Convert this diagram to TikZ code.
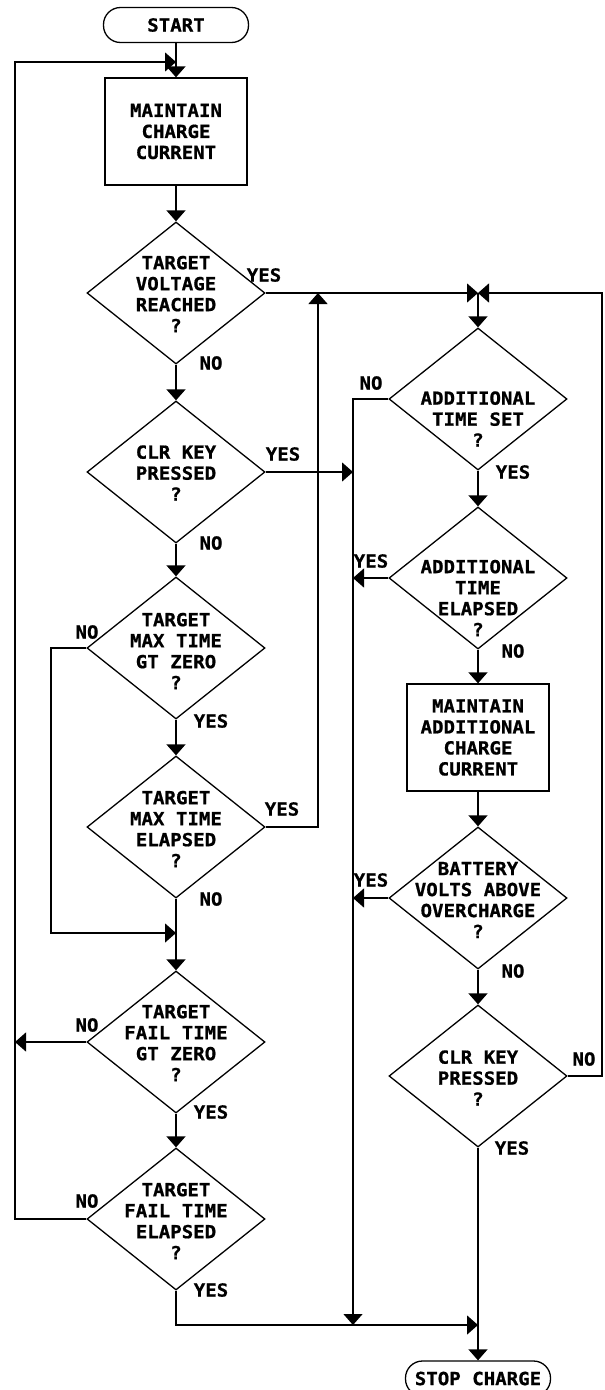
\documentclass[tikz,border=0pt]{standalone}
\usepackage{fontspec}
\newfontfamily\fcfont{DejaVu Sans Mono}[FakeStretch=1.06,FakeBold=0.8]
\usetikzlibrary{shapes.geometric,arrows.meta}
\begin{document}
\begin{tikzpicture}[x=1pt,y=-1pt, line width=1.3pt,
  >={Triangle[width=19pt,length=11pt]},
  every node/.style={font=\fcfont\bfseries\fontsize{18}{21}\selectfont},
  dia/.style={diamond, draw, minimum width=178pt, minimum height=142pt, inner sep=0pt},
  txt/.style={align=center, inner sep=0pt},
  procbox/.style={draw, minimum width=142pt, minimum height=107pt, align=center, inner sep=0pt},
  term/.style={draw, rounded corners=17pt, minimum width=145pt, minimum height=35pt, inner sep=0pt},
  lbl/.style={inner sep=0pt}]
\useasboundingbox (0,0) rectangle (605,1390);
\fill[white] (0,0) rectangle (605,1390);
\clip (0,0) rectangle (605,1390);

% left column
\node[term] (start) at (176,25) {START};
\node[procbox] (box1) at (176,131.5) {MAINTAIN\\CHARGE\\CURRENT};
\node[dia] (d1) at (176,293) {};
\node[txt] (d1t) at (176,294) {TARGET\\VOLTAGE\\REACHED\\?};
\node[dia] (d2) at (176,472) {};
\node[txt] (d2t) at (176,473) {CLR KEY\\PRESSED\\?};
\node[dia] (d3) at (176,648) {};
\node[txt] (d3t) at (176,651) {TARGET\\MAX TIME\\GT ZERO\\?};
\node[dia] (d4) at (176,827) {};
\node[txt] (d4t) at (176,829) {TARGET\\MAX TIME\\ELAPSED\\?};
\node[dia] (d5) at (176,1042) {};
\node[txt] (d5t) at (176,1043) {TARGET\\FAIL TIME\\GT ZERO\\?};
\node[dia] (d6) at (176,1219) {};
\node[txt] (d6t) at (176,1221) {TARGET\\FAIL TIME\\ELAPSED\\?};

% right column
\node[dia] (r1) at (478,399) {};
\node[txt] (r1t) at (478,419) {ADDITIONAL\\TIME SET\\?};
\node[dia] (r2) at (478,578) {};
\node[txt] (r2t) at (478,598) {ADDITIONAL\\TIME\\ELAPSED\\?};
\node[procbox] (box2) at (478,737.5) {MAINTAIN\\ADDITIONAL\\CHARGE\\CURRENT};
\node[dia] (r3) at (478,898) {};
\node[txt] (r3t) at (478,900) {BATTERY\\VOLTS ABOVE\\OVERCHARGE\\?};
\node[dia] (r4) at (478,1076) {};
\node[txt] (r4t) at (478,1078) {CLR KEY\\PRESSED\\?};
\node[term] (stop) at (478,1378.5) {STOP CHARGE};

% labels
\node[lbl] (l1y) at (264,275) {YES};
\node[lbl] (l1n) at (211,363) {NO};
\node[lbl] (l2y) at (283,454) {YES};
\node[lbl] (l2n) at (211,543) {NO};
\node[lbl] (l3n) at (87,632) {NO};
\node[lbl] (l3y) at (211,721) {YES};
\node[lbl] (l4y) at (282,809) {YES};
\node[lbl] (l4n) at (211,899) {NO};
\node[lbl] (l5n) at (87,1025) {NO};
\node[lbl] (l5y) at (211,1112) {YES};
\node[lbl] (l6n) at (87,1201) {NO};
\node[lbl] (l6y) at (211,1290) {YES};
\node[lbl] (r1n) at (371,383) {NO};
\node[lbl] (r1y) at (513,472) {YES};
\node[lbl] (r2y) at (371,561) {YES};
\node[lbl] (r2n) at (513,651) {NO};
\node[lbl] (r3y) at (371,880) {YES};
\node[lbl] (r3n) at (513,971) {NO};
\node[lbl] (r4n) at (584,1059) {NO};
\node[lbl] (r4y) at (512,1148) {YES};

% coordinates
\coordinate (ltop) at (15,62);
\coordinate (j1) at (176,62);
\coordinate (tr) at (478,293);
\coordinate (rr) at (602,293);
\coordinate (rr2) at (602,1076);
\coordinate (up) at (318,293);
\coordinate (up2) at (318,827);
\coordinate (v1) at (353,399);
\coordinate (v2) at (353,472);
\coordinate (v3) at (353,578);
\coordinate (v4) at (353,898);
\coordinate (vb) at (353,1325);
\coordinate (m1) at (51,648);
\coordinate (m2) at (51,933);
\coordinate (m3) at (176,933);
\coordinate (l1) at (15,1042);
\coordinate (l2) at (15,1219);
\coordinate (b1) at (176,1325);
\coordinate (b2) at (478,1325);

% main flow
\draw[->] (start) -- (box1);
\draw[->] (box1) -- (d1);
\draw[->] (d1) -- (d2);
\draw[->] (d2) -- (d3);
\draw[->] (d3) -- (d4);
\draw[->] (d4) -- (d5);
\draw[->] (d5) -- (d6);
\draw[->] (r1) -- (r2);
\draw[->] (r2) -- (box2);
\draw[->] (box2) -- (r3);
\draw[->] (r3) -- (r4);
\draw[->] (r4) -- (stop);

% branches
\draw[->] (d6.west) -- (l2) -- (ltop) -- (j1);
\draw[->] (d5.west) -- (l1);
\draw[->] (d3.west) -- (m1) -- (m2) -- (m3);
\draw[->] (d1.east) -- (tr);
\draw[->] (tr) -- (r1.north);
\draw[->] (r4.east) -- (rr2) -- (rr) -- (tr);
\draw[->] (d4.east) -- (up2) -- (up);
\draw[->] (d2.east) -- (v2);
\draw[->] (r1.west) -- (v1) -- (vb);
\draw[->] (r2.west) -- (v3);
\draw[->] (r3.west) -- (v4);
\draw[->] (d6.south) -- (b1) -- (b2);
\end{tikzpicture}
\end{document}
